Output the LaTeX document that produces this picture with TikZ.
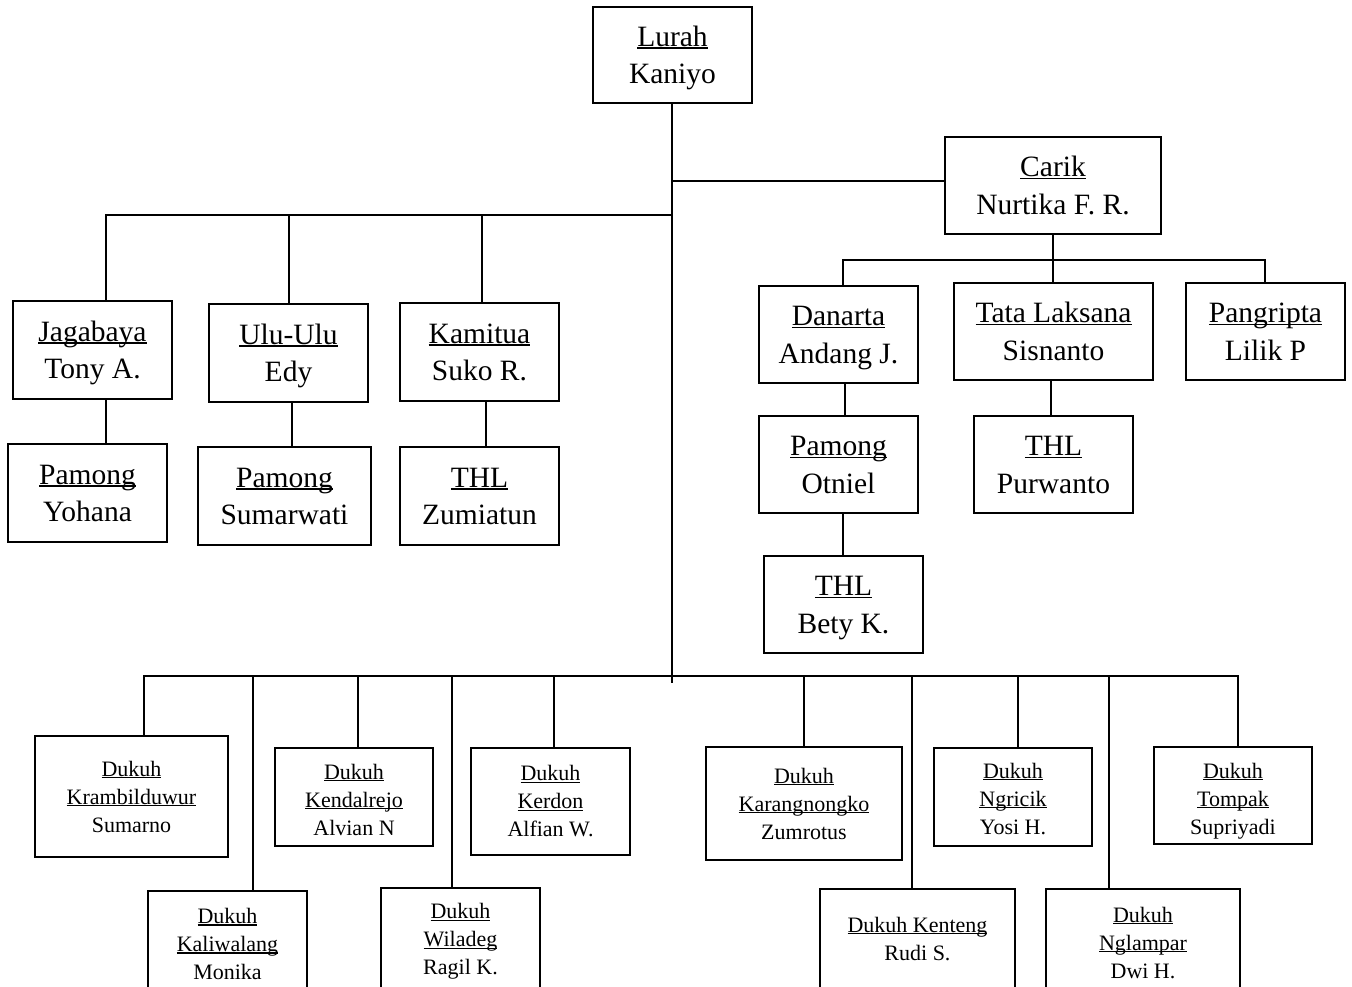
\documentclass[tikz,border=0pt]{standalone}
\usepackage{fontspec}
\setmainfont{Liberation Serif}
\newcommand\myul[1]{\leavevmode\setbox0=\hbox{#1}\rlap{\rule[-0.09em]{\wd0}{0.05em}}\box0}
\newcommand\hs{\rule{0pt}{26.5pt}}
\newcommand\ds{\rule[-7pt]{0pt}{7pt}}
\newcommand\tst[1]{\rule{0pt}{#1}}
\begin{document}
\begin{tikzpicture}[x=1pt,y=-1pt,line width=1.3pt,
  box/.style={draw,rectangle,inner sep=0pt,align=center},
  bigbox/.style={box,font=\fontsize{29.5}{37.5}\selectfont},
  smallbox/.style={box,font=\fontsize{22}{28}\selectfont}]
\useasboundingbox (0,0) rectangle (1352,986);
\clip (0,0) rectangle (1352,986);
\fill[white] (0,0) rectangle (1352,986);

% top level
\node[bigbox,minimum width=159pt,minimum height=96pt] (lurah) at (672.5,55) {\hs\myul{Lurah}\\Kaniyo\ds};
\node[bigbox,minimum width=216pt,minimum height=97pt] (carik) at (1053,185.5) {\hs\myul{Carik}\\Nurtika F. R.\ds};

% left branch
\node[bigbox,minimum width=159pt,minimum height=98pt] (jaga) at (92.5,350) {\hs\myul{Jagabaya}\\Tony A.\ds};
\node[bigbox,minimum width=159pt,minimum height=98pt] (yohana) at (87.5,493) {\hs\myul{Pamong}\\Yohana\ds};
\node[bigbox,minimum width=159pt,minimum height=98pt] (ulu) at (288.5,353) {\hs\myul{Ulu-Ulu}\\Edy\ds};
\node[bigbox,minimum width=173pt,minimum height=98pt] (sumar) at (284.5,496) {\hs\myul{Pamong}\\Sumarwati\ds};
\node[bigbox,minimum width=159pt,minimum height=98pt] (kamitua) at (479.5,352) {\hs\myul{Kamitua}\\Suko R.\ds};
\node[bigbox,minimum width=159pt,minimum height=98pt] (zumi) at (479.5,496) {\hs\myul{THL}\\Zumiatun\ds};

% carik branch
\node[bigbox,minimum width=159pt,minimum height=97pt] (danarta) at (838.5,334.5) {\hs\myul{Danarta}\\Andang J.\ds};
\node[bigbox,minimum width=199pt,minimum height=97pt] (tata) at (1053.5,331.5) {\hs\myul{Tata Laksana}\\Sisnanto\ds};
\node[bigbox,minimum width=159pt,minimum height=97pt] (pangripta) at (1265.5,331.5) {\hs\myul{Pangripta}\\Lilik P\ds};
\node[bigbox,minimum width=159pt,minimum height=97pt] (otniel) at (838.5,464.5) {\hs\myul{Pamong}\\Otniel\ds};
\node[bigbox,minimum width=159pt,minimum height=97pt] (bety) at (843.5,604.5) {\hs\myul{THL}\\Bety K.\ds};
\node[bigbox,minimum width=159pt,minimum height=97pt] (purwanto) at (1053.5,464.5) {\hs\myul{THL}\\Purwanto\ds};

% dukuh
\node[smallbox,minimum width=193pt,minimum height=121pt] (kramb) at (131.5,796.5) {\myul{Dukuh}\\\myul{Krambilduwur}\\Sumarno};
\node[smallbox,minimum width=159pt,minimum height=106pt] (kaliw) at (227.5,944) {\myul{Dukuh}\\\myul{Kaliwalang}\\Monika};
\node[smallbox,minimum width=158pt,minimum height=98pt] (kendal) at (354,797) {\tst{21pt}\myul{Dukuh}\\\myul{Kendalrejo}\\Alvian N};
\node[smallbox,minimum width=159pt,minimum height=104pt] (wiladeg) at (460.5,940) {\tst{18pt}\myul{Dukuh}\\\myul{Wiladeg}\\Ragil K.};
\node[smallbox,minimum width=159pt,minimum height=107pt] (kerdon) at (550.5,801.5) {\myul{Dukuh}\\\myul{Kerdon}\\Alfian W.};
\node[smallbox,minimum width=196pt,minimum height=113pt] (karang) at (804,803.5) {\myul{Dukuh}\\\myul{Karangnongko}\\Zumrotus};
\node[smallbox,minimum width=195pt,minimum height=100pt] (kenteng) at (917.5,939) {\myul{Dukuh Kenteng}\\Rudi S.};
\node[smallbox,minimum width=158pt,minimum height=98pt] (ngricik) at (1013,797) {\tst{19pt}\myul{Dukuh}\\\myul{Ngricik}\\Yosi H.};
\node[smallbox,minimum width=194pt,minimum height=108pt] (nglampar) at (1143,943) {\myul{Dukuh}\\\myul{Nglampar}\\Dwi H.};
\node[smallbox,minimum width=158pt,minimum height=97pt] (tompak) at (1233,795.5) {\tst{26pt}\myul{Dukuh}\\\myul{Tompak}\\Supriyadi};

% spine
\coordinate (sp) at (672,683);
\draw (sp |- lurah.south) -- (sp);
\coordinate (cj) at (672,181);
\draw (cj) -- (cj -| carik.west);

% left bus
\coordinate (lb) at (672,215);
\coordinate (lb1) at (106,215);
\coordinate (lb2) at (289,215);
\coordinate (lb3) at (482,215);
\draw (lb) -- (lb1) -- (lb1 |- jaga.north);
\draw (lb2) -- (lb2 |- ulu.north);
\draw (lb3) -- (lb3 |- kamitua.north);
\coordinate (v1) at (106,420);
\coordinate (v2) at (292,420);
\coordinate (v3) at (486,420);
\draw (v1 |- jaga.south) -- (v1 |- yohana.north);
\draw (v2 |- ulu.south) -- (v2 |- sumar.north);
\draw (v3 |- kamitua.south) -- (v3 |- zumi.north);

% carik bus
\draw (carik.south) -- (carik.south |- tata.north);
\coordinate (cb1) at (843,260);
\coordinate (cb2) at (1265,260);
\draw (cb1 |- danarta.north) -- (cb1) -- (cb2) -- (cb2 |- pangripta.north);
\coordinate (v4) at (845,400);
\coordinate (v5) at (843,530);
\coordinate (v6) at (1051,400);
\draw (v4 |- danarta.south) -- (v4 |- otniel.north);
\draw (v5 |- otniel.south) -- (v5 |- bety.north);
\draw (v6 |- tata.south) -- (v6 |- purwanto.north);

% bottom bus
\coordinate (bb1) at (143,676);
\coordinate (bb2) at (1239,676);
\draw (bb1) -- (bb2);
\foreach \x/\n in {144/kramb,253/kaliw,358/kendal,452/wiladeg,554/kerdon,804/karang,912/kenteng,1018/ngricik,1109/nglampar,1238/tompak}{
  \coordinate (d\n) at (\x,676);
  \draw (d\n) -- (d\n |- \n.north);
}
\end{tikzpicture}
\end{document}
